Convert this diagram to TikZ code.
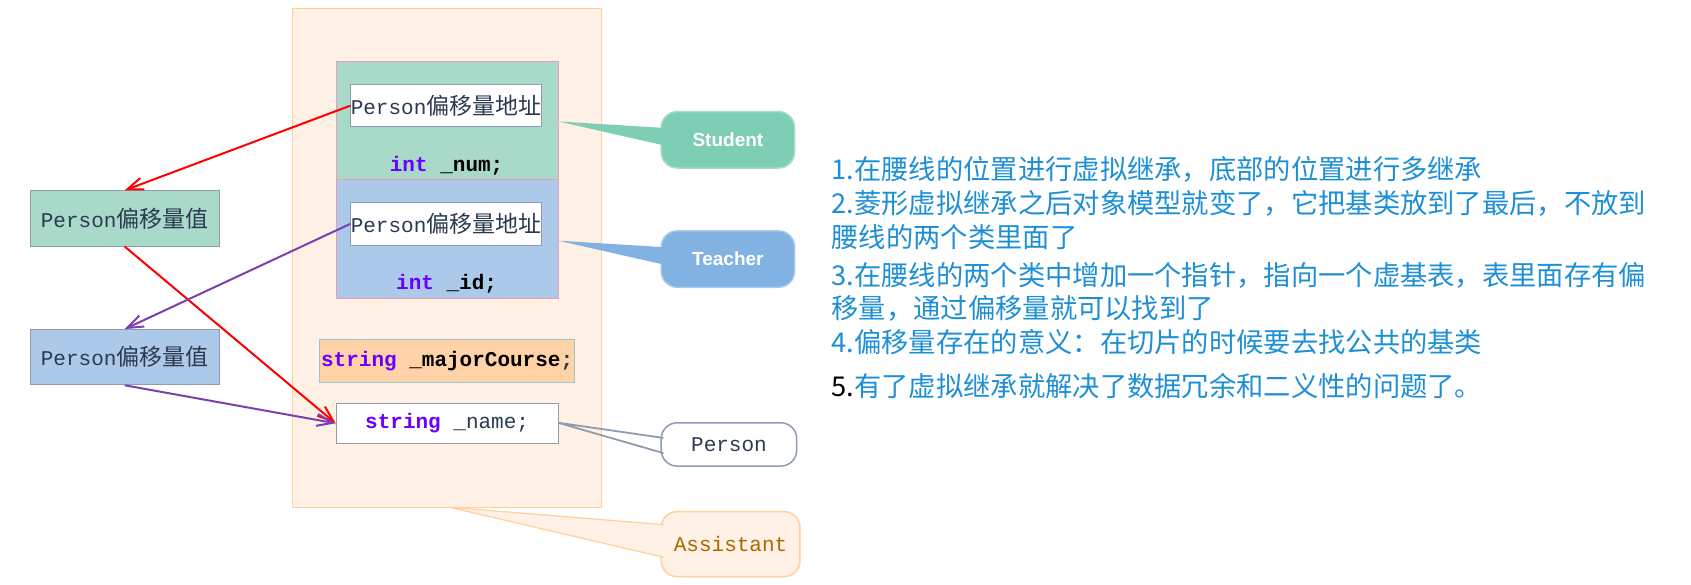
\documentclass[tikz,border=0pt]{standalone}
\usepackage{fontspec}
\setmainfont{Liberation Serif}
\newfontfamily\cjk{Noto Sans CJK SC}
\newfontfamily\codef{Liberation Mono}
\newfontfamily\sansb{Liberation Sans}
\usetikzlibrary{arrows.meta}
\definecolor{asfill}{HTML}{FFF1E5}
\definecolor{asline}{HTML}{FFD09A}
\definecolor{stfill}{HTML}{A9D9C9}
\definecolor{tefill}{HTML}{ADC9EA}
\definecolor{pinkl}{HTML}{E8A0B8}
\definecolor{grayl}{HTML}{8E9CB0}
\definecolor{mcfill}{HTML}{FFD3A7}
\definecolor{mcline}{HTML}{9BC3D0}
\definecolor{stcall}{HTML}{7ECDB5}
\definecolor{tecall}{HTML}{82B2E2}
\definecolor{kw}{HTML}{6A00FF}
\definecolor{txt}{HTML}{2A3A50}
\definecolor{blue1}{HTML}{1E8FD5}
\definecolor{asst}{HTML}{A86A00}
\definecolor{purp}{HTML}{7B3FB0}
\tikzset{
  box/.style={draw, line width=0.9pt, inner sep=0pt, font=\codef\fontsize{21}{24}\selectfont, text=txt},
  callout/.style={rounded corners=16pt, line width=1.5pt, inner sep=0pt, minimum width=123*1.084pt, minimum height=52*1.084pt},
  note/.style={anchor=west, inner sep=0pt, text=blue1, font=\cjk\fontsize{27.3}{30}\selectfont},
  arr/.style={line width=2pt, -{Straight Barb[length=16pt,width=12pt]}},
}
\newcommand{\pz}{\codef\fontsize{21}{24}\selectfont}
\newcommand{\cz}{\cjk\fontsize{23}{26}\selectfont}
\begin{document}
\begin{tikzpicture}[x=1.084pt,y=-1.084pt]
\useasboundingbox (0,0) rectangle (1560,538.8);
% Assistant outer
\node[box, draw=asline, fill=asfill, minimum width=285*1.084pt, minimum height=460*1.084pt] (asb) at (412.5,238) {};
\node[box, draw=pinkl, fill=stfill, minimum width=205*1.084pt, minimum height=109*1.084pt] (stb) at (412.5,111.5) {};
\node[box, draw=pinkl, fill=tefill, minimum width=205*1.084pt, minimum height=109*1.084pt] (teb) at (412.5,220.5) {};
\node[box, draw=grayl, fill=white, minimum width=173*1.084pt, minimum height=39*1.084pt] (in1) at (411.5,97.5) {\pz Person\cz 偏移量地址};
\node[box, draw=grayl, fill=white, minimum width=173*1.084pt, minimum height=39*1.084pt] (in2) at (411.5,206.5) {\pz Person\cz 偏移量地址};
\node[inner sep=0pt, font=\codef\bfseries\fontsize{21}{24}\selectfont] (num) at (412,153) {\textcolor{kw}{int} \textcolor{black}{\_num};};
\node[inner sep=0pt, font=\codef\bfseries\fontsize{21}{24}\selectfont] (id) at (412,262) {\textcolor{kw}{int} \textcolor{black}{\_id};};
\node[box, draw=mcline, fill=mcfill, minimum width=235*1.084pt, minimum height=40*1.084pt, font=\codef\bfseries\fontsize{21}{24}\selectfont] (mc) at (412.5,333) {\textcolor{kw}{string} \textcolor{black}{\_majorCourse};};
\node[box, draw=grayl, fill=white, minimum width=205*1.084pt, minimum height=37*1.084pt] (nm) at (412.5,390.5) {\textcolor{kw}{\bfseries string} \textcolor{txt}{\_name;}};
% left boxes
\node[box, draw=grayl, fill=stfill, minimum width=174*1.084pt, minimum height=51*1.084pt] (l1) at (115,201.5) {\pz Person\cz 偏移量值};
\node[box, draw=grayl, fill=tefill, minimum width=174*1.084pt, minimum height=51*1.084pt] (l2) at (115,329.5) {\pz Person\cz 偏移量值};
% callouts
\node[callout, fill=stcall, draw=stcall!70!white, font=\sansb\bfseries\fontsize{19}{22}\selectfont, text=white] (cs) at (671.5,129) {Student};
\fill[stcall] (515,112) coordinate (p1) -- (612,118) -- (612,134) -- cycle;
\node[callout, fill=tecall, draw=tecall!70!white, font=\sansb\bfseries\fontsize{19}{22}\selectfont, text=white] (ct) at (671.5,239) {Teacher};
\fill[tecall] (515,222) coordinate (p2) -- (612,228) -- (612,244) -- cycle;
\node[callout, fill=white, draw=grayl, minimum width=125*1.084pt, minimum height=40*1.084pt, font=\codef\fontsize{21}{24}\selectfont, text=txt] (cp) at (672.5,410) {Person};
\coordinate (p3) at (515,390);
\draw[grayl, line width=1.8pt] (p3) -- (612,404) (p3) -- (612,418);
\node[callout, fill=asfill, draw=asline, minimum width=128*1.084pt, minimum height=60*1.084pt, font=\codef\fontsize{21}{24}\selectfont, text=asst] (ca) at (674,502) {Assistant};
\coordinate (p4) at (415,468);
\fill[asfill] (p4) -- (612,484) -- (612,514) -- cycle;
\draw[asline, line width=1.2pt] (p4) -- (612,484) (p4) -- (612,514);
% arrows
\draw[arr, red] (in1.west) -- (l1.north);
\draw[arr, red] (l1.south) -- (nm.west);
\draw[arr, purp] (in2.west) -- (l2.north);
\draw[arr, purp] (l2.south) -- (nm.west);
% notes
\node[note] (n1) at (767,156) {1.在腰线的位置进行虚拟继承，底部的位置进行多继承};
\node[note] (n2) at (767,188) {2.菱形虚拟继承之后对象模型就变了，它把基类放到了最后，不放到};
\node[note] (n2b) at (767,219) {腰线的两个类里面了};
\node[note] (n3) at (767,254) {3.在腰线的两个类中增加一个指针，指向一个虚基表，表里面存有偏};
\node[note] (n3b) at (767,285) {移量，通过偏移量就可以找到了};
\node[note] (n4) at (767,316) {4.偏移量存在的意义：在切片的时候要去找公共的基类};
\node[note] (n5) at (767,356) {\textcolor{black}{5.}有了虚拟继承就解决了数据冗余和二义性的问题了。};
\end{tikzpicture}
\end{document}
